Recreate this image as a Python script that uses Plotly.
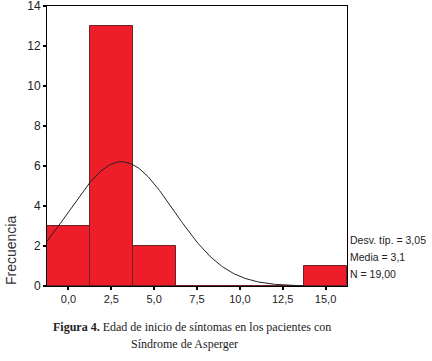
import numpy as np
import plotly.graph_objects as go

# Data
bin_centers = [0.0, 2.5, 5.0, 7.5, 10.0, 12.5, 15.0]
counts = [3, 13, 2, 0, 0, 0, 1]
tick_labels = ["0,0", "2,5", "5,0", "7,5", "10,0", "12,5", "15,0"]
y_ticks = [0, 2, 4, 6, 8, 10, 12, 14]
media = 3.1
desv = 3.05
n_total = 19
bin_width = 2.5

# Normal curve fitted from the reported stats
xc = np.linspace(-1.25, 13.75, 200)
yc = n_total * bin_width / (desv * np.sqrt(2 * np.pi)) * np.exp(-((xc - media) ** 2) / (2 * desv ** 2))

fig = go.Figure()
fig.add_trace(go.Bar(
    x=bin_centers, y=counts, width=bin_width,
    marker=dict(color="#EE1D2A", line=dict(color="#6B2323", width=1)),
    showlegend=False, hoverinfo="skip",
))
fig.add_trace(go.Scatter(
    x=xc, y=yc, mode="lines", line=dict(color="#222222", width=1),
    showlegend=False, hoverinfo="skip",
))

fig.update_xaxes(
    range=[-1.25, 16.25], tickvals=bin_centers, ticktext=tick_labels,
    showline=True, linecolor="black", linewidth=1, mirror=True,
    ticks="outside", ticklen=3, tickwidth=2, tickcolor="black",
    showgrid=False, zeroline=False, automargin=False, ticklabeloverflow="allow",
    tickfont=dict(family="Liberation Sans", size=11, color="#222"),
)
fig.update_yaxes(
    range=[0, 14], tickvals=y_ticks,
    showline=True, linecolor="black", linewidth=1, mirror=True,
    ticks="outside", ticklen=3, tickwidth=2, tickcolor="black",
    showgrid=False, zeroline=False, automargin=False, ticklabeloverflow="allow",
    tickfont=dict(family="Liberation Sans", size=12, color="#222"),
)

stats = ["Desv. típ. = 3,05", "Media = 3,1", "N = 19,00"]
for i, s in enumerate(stats):
    fig.add_annotation(text=s, xref="paper", yref="paper", x=1.003, y=(286 - 240 - i * 17) / 280,
                       xanchor="left", yanchor="middle", showarrow=False,
                       font=dict(family="Liberation Sans", size=10.5, color="#222"))

fig.add_annotation(text="Frecuencia", xref="paper", yref="paper", x=-36 / 300, y=(286 - 251) / 280,
                   textangle=-90, xanchor="center", yanchor="middle", showarrow=False,
                   font=dict(family="Liberation Sans", size=14, color="#333"))

fig.add_annotation(text="<b>Figura 4.</b> Edad de inicio de síntomas en los pacientes con",
                   xref="paper", yref="paper", x=(192 - 47) / 300, y=-(327 - 286) / 280,
                   xanchor="center", yanchor="middle", showarrow=False,
                   font=dict(family="Liberation Serif", size=12, color="#222"))
fig.add_annotation(text="Síndrome de Asperger",
                   xref="paper", yref="paper", x=(184 - 47) / 300, y=-(344 - 286) / 280,
                   xanchor="center", yanchor="middle", showarrow=False,
                   font=dict(family="Liberation Serif", size=12, color="#222"))

fig.update_layout(
    width=432, height=361,
    margin=dict(l=47, r=85, t=6, b=75),
    paper_bgcolor="white", plot_bgcolor="white",
    bargap=0,
)
fig.write_html("out.html", config={"displayModeBar": False},
               post_script="document.body.style.margin='0';document.body.style.overflow='hidden';")
